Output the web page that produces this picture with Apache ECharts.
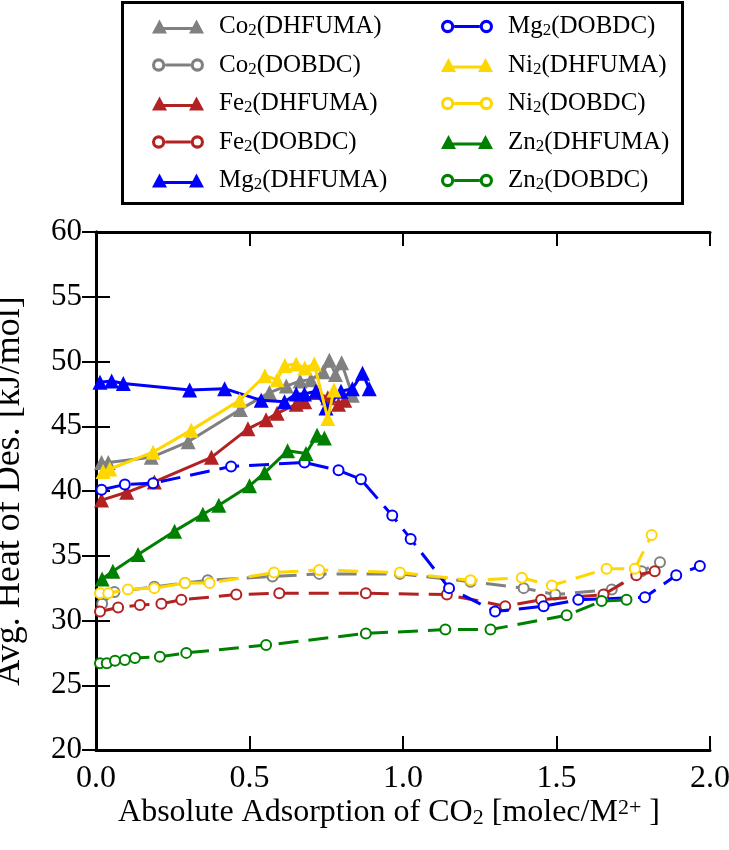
<!DOCTYPE html>
<html>
<head>
<meta charset="utf-8">
<script src="https://cdn.jsdelivr.net/npm/echarts@6/dist/echarts.min.js"></script>
<style>
html,body{margin:0;padding:0;background:#fff;}
#chart{width:729px;height:850px;}
</style>
</head>
<body>
<div id="chart"></div>
<script>
// ---- data (x: absolute adsorption of CO2 [molec/M2+], y: avg heat of desorption [kJ/mol]) ----
const coDhfuma = [[0.018,42.2],[0.04,42.2],[0.18,42.6],[0.30,43.8],[0.47,46.3],[0.565,47.6],[0.62,48.1],[0.665,48.5],[0.70,48.6],[0.74,49.2],[0.76,50.1],[0.78,49.0],[0.80,49.9],[0.835,47.4]];
const coDobdc = [[0.02,31.3],[0.06,32.2],[0.19,32.6],[0.29,32.9],[0.364,33.1],[0.575,33.4],[0.727,33.6],[0.99,33.6],[1.22,33.0],[1.393,32.5],[1.496,32.0],[1.68,32.4],[1.777,33.8],[1.837,34.5]];
const feDhfuma = [[0.018,39.3],[0.10,39.9],[0.19,40.7],[0.376,42.6],[0.495,44.8],[0.554,45.5],[0.59,46.0],[0.652,46.7],[0.68,46.9],[0.72,47.6],[0.755,47.2],[0.79,46.7],[0.81,47.0]];
const feDobdc = [[0.013,30.7],[0.072,31.0],[0.143,31.2],[0.213,31.3],[0.278,31.6],[0.457,32.0],[0.597,32.1],[0.879,32.1],[1.143,32.0],[1.333,31.1],[1.45,31.6],[1.653,32.0],[1.76,33.5],[1.82,33.8]];
const mgDhfuma = [[0.013,48.4],[0.051,48.5],[0.089,48.3],[0.305,47.8],[0.419,47.9],[0.538,47.0],[0.614,46.9],[0.652,47.5],[0.679,47.5],[0.716,47.7],[0.749,46.4],[0.798,47.7],[0.835,47.9],[0.868,49.1],[0.89,47.9]];
const mgDobdc = [[0.018,40.1],[0.094,40.5],[0.186,40.6],[0.44,41.9],[0.679,42.2],[0.79,41.6],[0.863,40.9],[0.965,38.1],[1.025,36.3],[1.15,32.5],[1.30,30.7],[1.458,31.1],[1.571,31.6],[1.788,31.8],[1.89,33.5],[1.967,34.2]];
const niDhfuma = [[0.023,41.5],[0.045,41.7],[0.186,43.0],[0.31,44.7],[0.468,47.0],[0.55,48.9],[0.59,48.6],[0.615,49.7],[0.652,49.8],[0.68,49.5],[0.711,49.8],[0.755,45.6],[0.775,47.8]];
const niDobdc = [[0.013,32.1],[0.04,32.1],[0.104,32.4],[0.19,32.5],[0.29,32.9],[0.37,32.9],[0.58,33.7],[0.727,33.9],[0.99,33.7],[1.22,33.1],[1.387,33.3],[1.485,32.7],[1.663,34.0],[1.755,34.0],[1.81,36.6]];
const znDhfuma = [[0.02,33.2],[0.055,33.8],[0.137,35.1],[0.256,36.9],[0.348,38.2],[0.40,38.9],[0.50,40.4],[0.549,41.4],[0.624,43.1],[0.684,42.9],[0.72,44.3],[0.744,44.1]];
const znDobdc = [[0.013,26.7],[0.035,26.7],[0.062,26.9],[0.094,26.95],[0.127,27.1],[0.208,27.2],[0.294,27.5],[0.554,28.1],[0.879,29.0],[1.138,29.3],[1.285,29.3],[1.533,30.4],[1.647,31.5],[1.728,31.6]];

const seriesNames = ['Co2(DHFUMA)','Co2(DOBDC)','Fe2(DHFUMA)','Fe2(DOBDC)','Mg2(DHFUMA)','Mg2(DOBDC)','Ni2(DHFUMA)','Ni2(DOBDC)','Zn2(DHFUMA)','Zn2(DOBDC)'];
const seriesData = [coDhfuma, coDobdc, feDhfuma, feDobdc, mgDhfuma, mgDobdc, niDhfuma, niDobdc, znDhfuma, znDobdc];
const seriesColors = ['#808080','#808080','#b22222','#b22222','#0000ff','#0000ff','#ffd700','#ffd700','#008000','#008000'];
const xTicks = [0, 0.5, 1.0, 1.5, 2.0];
const yTicks = [20, 25, 30, 35, 40, 45, 50, 55, 60];

const FONT = "'Liberation Serif', 'Times New Roman', serif";
const X_MIN = 0, X_MAX = 2, Y_MIN = 20, Y_MAX = 60;

// legend icons: marker - line - marker (52 x 16)
const ICON_TRI = 'path://M0,15 L7.5,1 L15,15 Z M37,15 L44.5,1 L52,15 Z M11,8.5 L41,8.5 L41,11.5 L11,11.5 Z';
const ICON_RING = 'path://M0.5,8 a6.5,6.5 0 1,0 13,0 a6.5,6.5 0 1,0 -13,0 Z M3.5,8 a3.5,3.5 0 1,1 7,0 a3.5,3.5 0 1,1 -7,0 Z ' +
  'M38.5,8 a6.5,6.5 0 1,0 13,0 a6.5,6.5 0 1,0 -13,0 Z M41.5,8 a3.5,3.5 0 1,1 7,0 a3.5,3.5 0 1,1 -7,0 Z M13.5,6.5 L38.5,6.5 L38.5,9.5 L13.5,9.5 Z';

function legendFmt(name) {
  const m = name.match(/^([A-Z][a-z])2(.*)$/);
  return '{g|}{n|' + m[1] + '}{s|2}{n|' + m[2] + '}';
}
const legendRich = {
  g: {width: 10},
  n: {fontFamily: FONT, fontSize: 25, lineHeight: 26, color: '#000'},
  s: {fontFamily: FONT, fontSize: 17, lineHeight: 14, verticalAlign: 'bottom', color: '#000'}
};
function legendItems(names) {
  return names.map(n => ({name: n, icon: n.indexOf('DHFUMA') >= 0 ? ICON_TRI : ICON_RING}));
}

const series = seriesNames.map((name, i) => {
  const tri = name.indexOf('DHFUMA') >= 0;
  return {
    name: name,
    type: 'line',
    data: seriesData[i],
    symbol: tri ? 'triangle' : 'emptyCircle',
    symbolSize: tri ? 15 : 10,
    showAllSymbol: true,
    color: seriesColors[i],
    lineStyle: {width: 3, color: seriesColors[i], type: tri ? 'solid' : [20, 10]},
    itemStyle: tri ? {color: seriesColors[i]} : {color: seriesColors[i], borderColor: seriesColors[i], borderWidth: 3},
    z: 2 + i * 0.1,
    animation: false
  };
});

// tick labels placed on the axes' own scales (serif font)
series.push({
  name: 'xTickLabels', type: 'scatter', silent: true, symbol: 'circle', symbolSize: 0,
  data: xTicks.map(t => [t, Y_MIN]), z: 20,
  itemStyle: {opacity: 1, color: '#000'},
  label: {show: true, position: 'bottom', distance: 13, fontFamily: FONT, fontSize: 32, color: '#000', opacity: 1,
    textBorderWidth: 0, formatter: p => p.value[0].toFixed(1)}
});
series.push({
  name: 'yTickLabels', type: 'scatter', silent: true, symbol: 'circle', symbolSize: 0,
  data: yTicks.map(t => [X_MIN, t]), z: 20,
  itemStyle: {opacity: 1, color: '#000'},
  label: {show: true, position: 'left', distance: 14, fontFamily: FONT, fontSize: 31, color: '#000', opacity: 1,
    textBorderWidth: 0, formatter: p => String(p.value[1])}
});

const axisCommon = {
  axisLine: {show: true, lineStyle: {color: '#000', width: 3}},
  axisTick: {show: true, inside: true, length: 14, lineStyle: {color: '#000', width: 2}},
  axisLabel: {show: false},
  splitLine: {show: false}
};

const chart = echarts.init(document.getElementById('chart'), null, {renderer: 'canvas'});
chart.setOption({
  animation: false,
  backgroundColor: '#fff',
  textStyle: {fontFamily: FONT},
  grid: {left: 96, right: 19, top: 232, bottom: 100, containLabel: false, outerBoundsMode: 'none'},
  legend: [
    {
      data: legendItems(seriesNames.slice(0, 5)), orient: 'vertical', left: 147, top: 9,
      itemWidth: 52, itemHeight: 16, itemGap: 13, itemStyle: {borderWidth: 0},
      formatter: legendFmt, textStyle: {fontFamily: FONT, rich: legendRich}, selectedMode: false
    },
    {
      data: legendItems(seriesNames.slice(5)), orient: 'vertical', left: 436, top: 9,
      itemWidth: 52, itemHeight: 16, itemGap: 13, itemStyle: {borderWidth: 0},
      formatter: legendFmt, textStyle: {fontFamily: FONT, rich: legendRich}, selectedMode: false
    }
  ],
  graphic: [{
    type: 'rect', left: 120, top: 0, z: 100,
    shape: {x: 0, y: 0, width: 560, height: 201},
    style: {fill: null, stroke: '#000', lineWidth: 3}
  }],
  xAxis: [
    Object.assign({
      type: 'value', min: X_MIN, max: X_MAX, interval: 0.5, position: 'bottom',
      name: 'Absolute Adsorption of CO{s|2} [molec/M{p|2+} ]',
      nameLocation: 'middle', nameGap: 47,
      nameTextStyle: {
        fontFamily: FONT, fontSize: 32, color: '#000', padding: [0, 28, 0, 0],
        rich: {
          s: {fontFamily: FONT, fontSize: 22, lineHeight: 18, verticalAlign: 'bottom', color: '#000'},
          p: {fontFamily: FONT, fontSize: 22, lineHeight: 18, verticalAlign: 'top', color: '#000'}
        }
      }
    }, axisCommon),
    Object.assign({
      type: 'value', min: X_MIN, max: X_MAX, interval: 0.5, position: 'top'
    }, axisCommon)
  ],
  yAxis: [
    Object.assign({
      type: 'value', min: Y_MIN, max: Y_MAX, interval: 5, position: 'left',
      name: 'Avg. Heat of Des. [kJ/mol]',
      nameLocation: 'middle', nameGap: 68,
      nameTextStyle: {fontFamily: FONT, fontSize: 36, color: '#000'}
    }, axisCommon),
    Object.assign({
      type: 'value', min: Y_MIN, max: Y_MAX, interval: 5, position: 'right'
    }, axisCommon)
  ],
  series: series
});
</script>
</body>
</html>
